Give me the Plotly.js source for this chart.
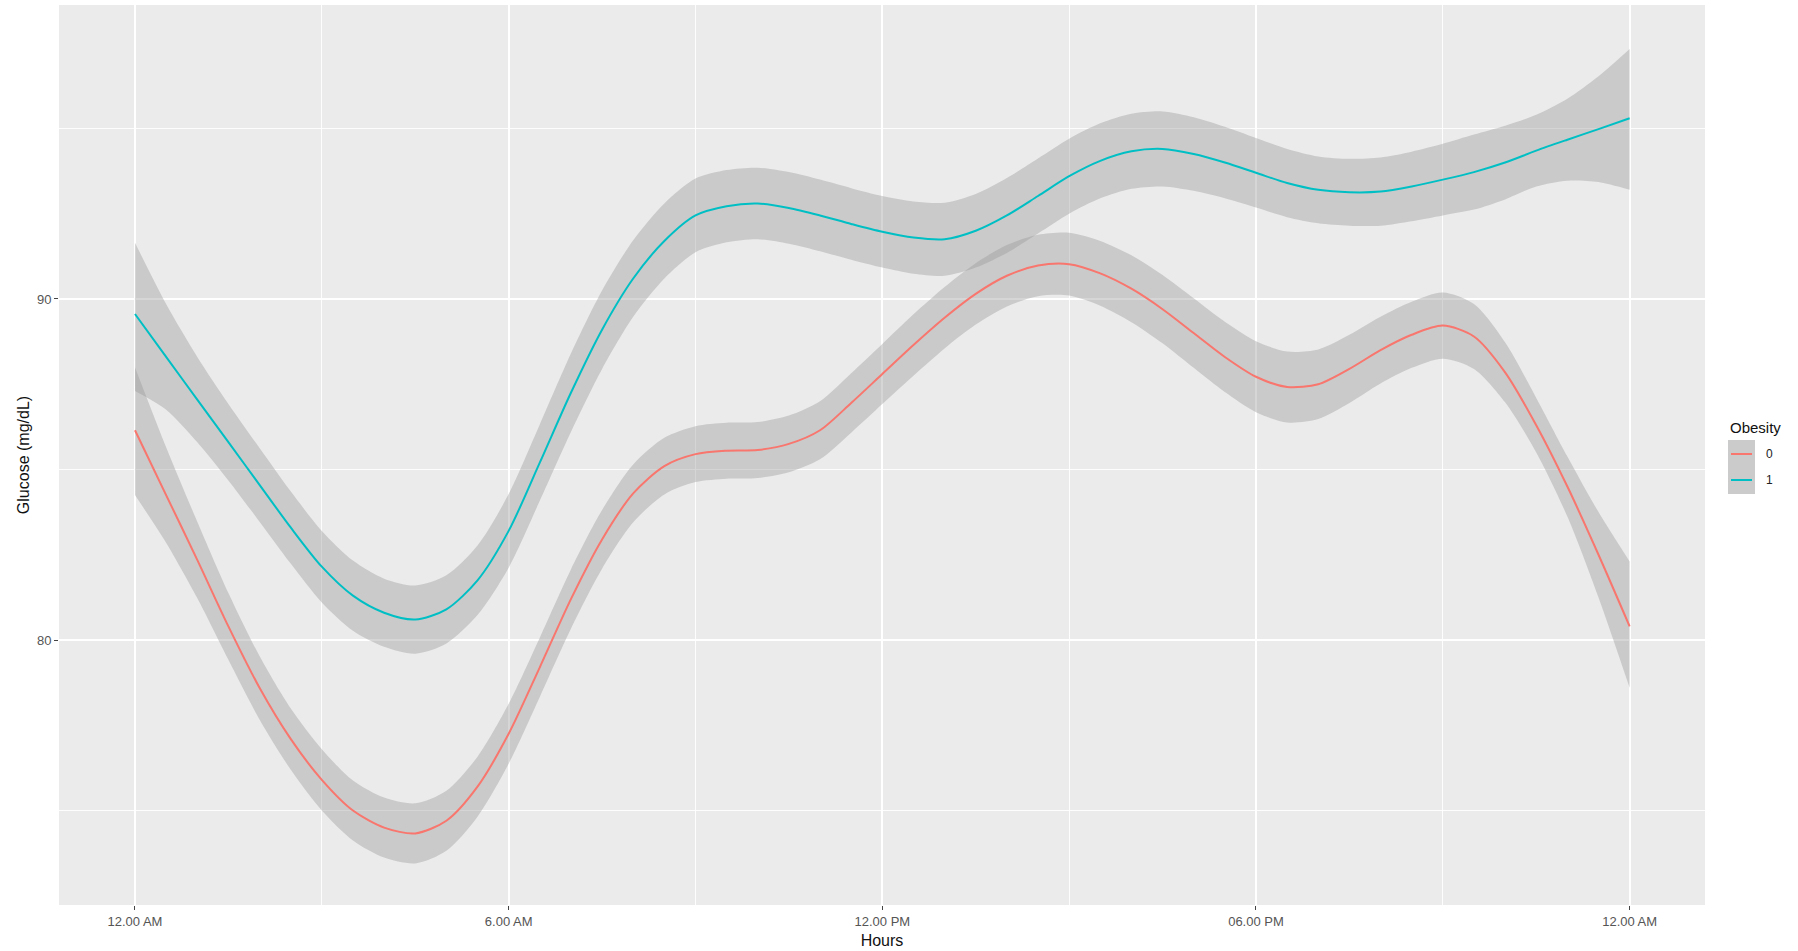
<!DOCTYPE html>
<html>
<head>
<meta charset="utf-8">
<script src="https://cdn.plot.ly/plotly-3.0.1.min.js"></script>
<style>
  html, body { margin: 0; padding: 0; background: #ffffff; }
  #chart { width: 1798px; height: 951px; }
</style>
</head>
<body>
<div id="chart"></div>
<script>
// Hours since midnight
const hours = [0,0.5,1,1.5,2,2.5,3,3.5,4,4.5,5,5.5,6,6.5,7,7.5,8,8.5,9,9.5,10,10.5,11,11.5,12,12.5,13,13.5,14,14.5,15,15.5,16,16.5,17,17.5,18,18.5,19,19.5,20,20.5,21,21.5,22,22.5,23,23.5,24];

// Obesity = 0 (smoothed mean and confidence band)
const mean0 = [86.15,84.25,82.35,80.4,78.6,77.1,75.9,75.0,74.5,74.33,74.7,75.7,77.25,79.2,81.2,82.95,84.3,85.1,85.45,85.55,85.57,85.75,86.15,86.95,87.8,88.65,89.45,90.15,90.68,90.98,91.02,90.75,90.3,89.7,89.0,88.3,87.72,87.42,87.5,87.95,88.5,88.95,89.22,88.9,87.85,86.3,84.5,82.5,80.4];
const upper0 = [88.0,85.65,83.47,81.38,79.53,78.0,76.8,75.88,75.38,75.21,75.58,76.58,78.13,80.07,82.07,83.81,85.15,85.93,86.27,86.37,86.39,86.58,87.0,87.82,88.68,89.55,90.35,91.05,91.58,91.88,91.94,91.7,91.28,90.7,90.02,89.33,88.76,88.46,88.52,88.95,89.48,89.92,90.19,89.85,88.73,87.1,85.38,83.75,82.3];
const lower0 = [84.25,82.85,81.23,79.42,77.67,76.2,75.0,74.12,73.62,73.45,73.82,74.82,76.37,78.33,80.33,82.09,83.45,84.27,84.63,84.73,84.75,84.92,85.3,86.08,86.92,87.75,88.55,89.25,89.78,90.08,90.1,89.8,89.32,88.7,87.98,87.27,86.68,86.38,86.48,86.95,87.52,87.98,88.25,87.95,86.97,85.5,83.62,81.25,78.6];

// Obesity = 1 (smoothed mean and confidence band)
const mean1 = [89.56,88.3,87.05,85.8,84.55,83.3,82.15,81.3,80.8,80.6,80.9,81.75,83.2,85.2,87.25,89.1,90.6,91.7,92.45,92.72,92.8,92.67,92.45,92.2,91.97,91.8,91.75,92.0,92.45,93.02,93.6,94.05,94.33,94.4,94.25,94.0,93.7,93.4,93.2,93.13,93.15,93.3,93.5,93.72,94.0,94.35,94.67,94.98,95.3];
const upper1 = [91.65,89.85,88.3,86.92,85.63,84.36,83.2,82.33,81.8,81.6,81.9,82.77,84.28,86.32,88.4,90.25,91.72,92.8,93.53,93.78,93.85,93.72,93.5,93.25,93.02,92.86,92.82,93.08,93.55,94.12,94.7,95.15,95.43,95.5,95.33,95.05,94.72,94.4,94.18,94.11,94.15,94.32,94.55,94.82,95.08,95.4,95.87,96.53,97.33];
const lower1 = [87.3,86.75,85.8,84.68,83.47,82.24,81.1,80.27,79.8,79.6,79.9,80.73,82.12,84.08,86.1,87.95,89.48,90.6,91.37,91.66,91.75,91.62,91.4,91.15,90.92,90.74,90.68,90.92,91.35,91.92,92.5,92.95,93.23,93.3,93.17,92.95,92.68,92.4,92.22,92.15,92.15,92.28,92.45,92.62,92.92,93.3,93.47,93.43,93.2];

// Axis ticks
const xTickVals = [0, 6, 12, 18, 24];
const xTickText = ["12.00 AM", "6.00 AM", "12.00 PM", "06.00 PM", "12.00 AM"];
const yTickVals = [80, 90];
const yTickText = ["80", "90"];

const groups = ["0", "1"];
const colors = ["#F8766D", "#00BFC4"];
const bandFill = "rgba(153,153,153,0.4)";
const FONT = "Liberation Sans, Arial, sans-serif";

function band(lo, hi) {
  return [
    {x: hours, y: lo, type: "scatter", mode: "lines", line: {width: 0, shape: "spline", smoothing: 0.8}, showlegend: false, hoverinfo: "skip"},
    {x: hours, y: hi, type: "scatter", mode: "lines", line: {width: 0, shape: "spline", smoothing: 0.8}, fill: "tonexty", fillcolor: bandFill, showlegend: false, hoverinfo: "skip"}
  ];
}
function meanLine(m, color, name) {
  return {x: hours, y: m, type: "scatter", mode: "lines", name: name,
          line: {color: color, width: 2, shape: "spline", smoothing: 0.8}, showlegend: false};
}

const data = [].concat(
  band(lower0, upper0), [meanLine(mean0, colors[0], groups[0])],
  band(lower1, upper1), [meanLine(mean1, colors[1], groups[1])]
);

// Manual ggplot-style legend (paper coordinates)
const px = X => (X - 59) / 1646;
const py = Y => (905 - Y) / 900;

const layout = {
  width: 1798, height: 951,
  margin: {l: 59, r: 93, t: 5, b: 46, pad: 0},
  paper_bgcolor: "#ffffff",
  plot_bgcolor: "#EBEBEB",
  font: {family: FONT, color: "#4D4D4D"},
  showlegend: false,
  xaxis: {
    range: [-1.22, 25.21],
    tickmode: "array", tickvals: xTickVals, ticktext: xTickText,
    tickfont: {size: 13, color: "#555555", family: FONT},
    ticks: "outside", ticklen: 4, tickwidth: 1, tickcolor: "#444444",
    showgrid: true, gridcolor: "#ffffff", gridwidth: 1.8,
    minor: {tick0: 0, dtick: 3, showgrid: true, gridcolor: "#ffffff", gridwidth: 0.9, ticks: ""},
    zeroline: false, showline: false,
    title: {text: "Hours", font: {size: 16, color: "#111111", family: FONT}, standoff: 7}
  },
  yaxis: {
    range: [72.23, 98.62],
    tickmode: "array", tickvals: yTickVals, ticktext: yTickText,
    tickfont: {size: 13, color: "#555555", family: FONT},
    ticks: "outside", ticklen: 4, tickwidth: 1, tickcolor: "#444444",
    showgrid: true, gridcolor: "#ffffff", gridwidth: 1.8,
    minor: {tick0: 0, dtick: 5, showgrid: true, gridcolor: "#ffffff", gridwidth: 0.9, ticks: ""},
    zeroline: false, showline: false,
    title: {text: "Glucose (mg/dL)", font: {size: 16, color: "#111111", family: FONT}, standoff: 3}
  },
  shapes: [
    {type: "rect", xref: "paper", yref: "paper", x0: px(1728), x1: px(1755), y0: py(494), y1: py(440),
     fillcolor: "#CBCBCB", line: {width: 0}, layer: "above"},
    {type: "line", xref: "paper", yref: "paper", x0: px(1731), x1: px(1752), y0: py(454), y1: py(454),
     line: {color: colors[0], width: 2}},
    {type: "line", xref: "paper", yref: "paper", x0: px(1731), x1: px(1752), y0: py(480), y1: py(480),
     line: {color: colors[1], width: 2}}
  ],
  annotations: [
    {xref: "paper", yref: "paper", x: px(1728), y: py(427), xanchor: "left", yanchor: "middle",
     text: "Obesity", showarrow: false, font: {size: 15, color: "#111111", family: FONT}},
    {xref: "paper", yref: "paper", x: px(1764), y: py(454), xanchor: "left", yanchor: "middle",
     text: groups[0], showarrow: false, font: {size: 12, color: "#222222", family: FONT}},
    {xref: "paper", yref: "paper", x: px(1764), y: py(480), xanchor: "left", yanchor: "middle",
     text: groups[1], showarrow: false, font: {size: 12, color: "#222222", family: FONT}}
  ]
};

Plotly.newPlot("chart", data, layout, {displayModeBar: false, staticPlot: true});
</script>
</body>
</html>
